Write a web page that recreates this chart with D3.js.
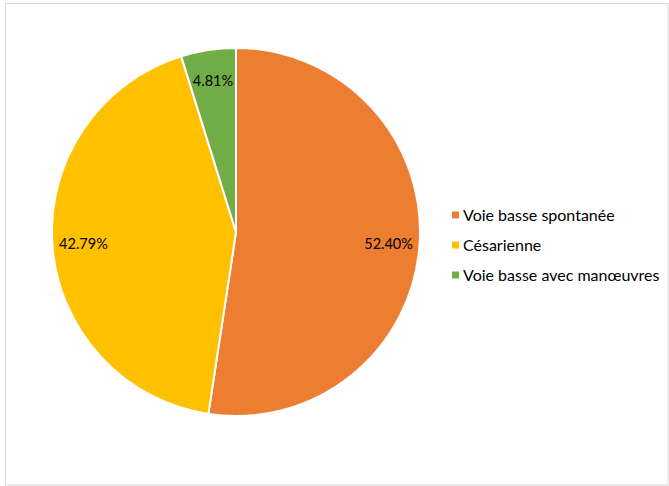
<!DOCTYPE html>
<html>
<head>
<meta charset="utf-8">
<script src="https://cdn.jsdelivr.net/npm/d3@7"></script>
<style>
  body { margin: 0; background: #fff; }
  svg { display: block; }
</style>
</head>
<body>
<svg width="669" height="486"></svg>
<script>
  // données du graphique
  const categories = ["Voie basse spontanée", "Césarienne", "Voie basse avec manœuvres"];
  const values = [52.40, 42.79, 4.81];
  const colors = ["#ED7D31", "#FFC000", "#70AD47"];

  const svg = d3.select("svg");

  // cadre gris autour du graphique
  svg.append("rect")
    .attr("x", 5.5).attr("y", 3.5)
    .attr("width", 662.5).attr("height", 481.5)
    .attr("fill", "#fff")
    .attr("stroke", "#d9d9d9")
    .attr("stroke-width", 1);

  const cx = 236, cy = 232, r = 184;

  const pie = d3.pie().sort(null).value(d => d);
  const arc = d3.arc().innerRadius(0).outerRadius(r);
  const labelArc = d3.arc().innerRadius(153).outerRadius(153);

  const g = svg.append("g").attr("transform", `translate(${cx},${cy})`);
  const arcs = pie(values);

  g.selectAll("path")
    .data(arcs)
    .enter()
    .append("path")
    .attr("d", arc)
    .attr("fill", (d, i) => colors[i])
    .attr("stroke", "#fff")
    .attr("stroke-width", 2);

  g.selectAll("text")
    .data(arcs)
    .enter()
    .append("text")
    .attr("transform", d => `translate(${labelArc.centroid(d)})`)
    .attr("text-anchor", "middle")
    .attr("dy", "0.35em")
    .style("font-family", "Lato, 'Open Sans', sans-serif")
    .style("font-size", "14.5px")
    .style("fill", "#000")
    .text(d => d.data.toFixed(2) + "%");

  // légende
  const legendY = d3.scalePoint().domain(categories).range([215, 275]);
  const legend = svg.append("g");
  const item = legend.selectAll("g")
    .data(categories)
    .enter()
    .append("g")
    .attr("transform", d => `translate(452,${legendY(d)})`);

  item.append("rect")
    .attr("x", 0).attr("y", -3.5)
    .attr("width", 7).attr("height", 7)
    .attr("fill", (d, i) => colors[i]);

  item.append("text")
    .attr("x", 11)
    .attr("dy", "0.35em")
    .style("font-family", "Lato, 'Open Sans', sans-serif")
    .style("font-size", "16px")
    .style("fill", "#000")
    .text(d => d);
</script>
</body>
</html>
